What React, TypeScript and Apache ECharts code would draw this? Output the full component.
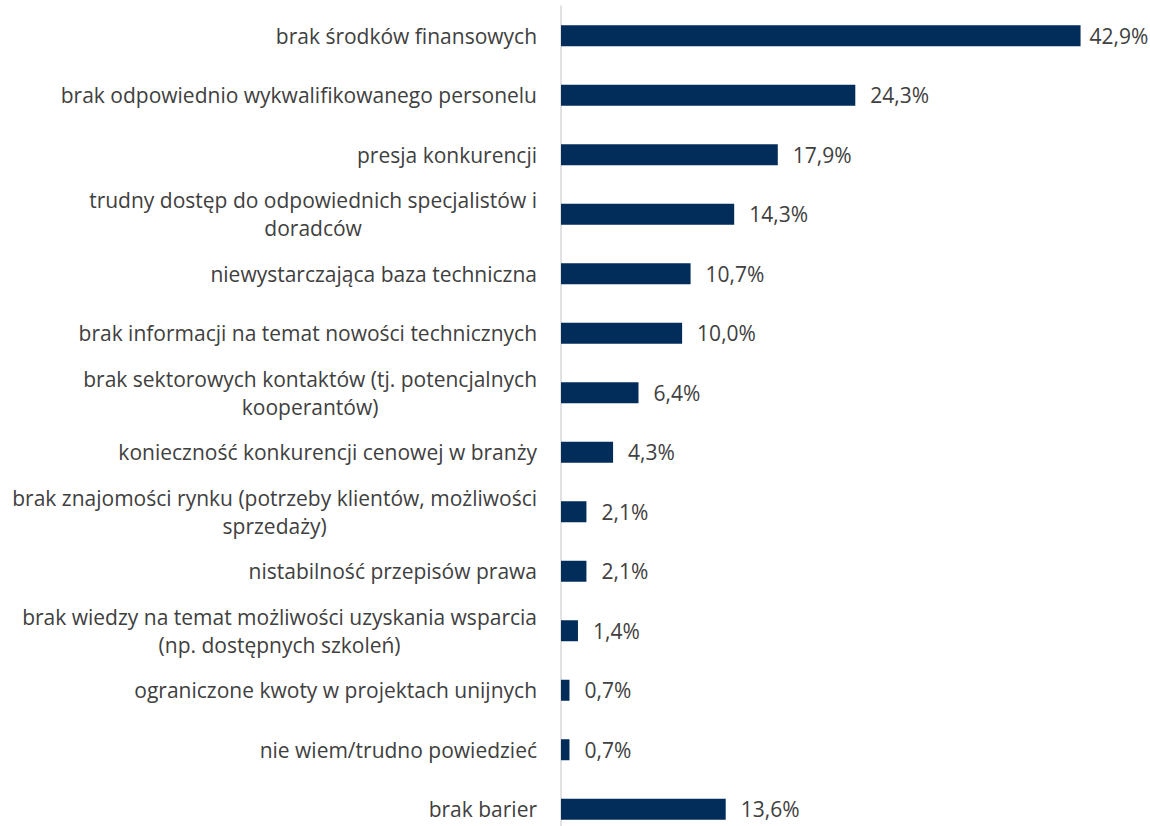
import React, { useEffect, useRef } from "react";
import * as echarts from "echarts";

const categories: string[] = [
  "brak środków finansowych",
  "brak odpowiednio wykwalifikowanego personelu",
  "presja konkurencji",
  "trudny dostęp do odpowiednich specjalistów i\ndoradców",
  "niewystarczająca baza techniczna",
  "brak informacji na temat nowości technicznych",
  "brak sektorowych kontaktów (tj. potencjalnych\nkooperantów)",
  "konieczność konkurencji cenowej w branży",
  "brak znajomości rynku (potrzeby klientów, możliwości\nsprzedaży)",
  "nistabilność przepisów prawa",
  "brak wiedzy na temat możliwości uzyskania wsparcia\n(np. dostępnych szkoleń)",
  "ograniczone kwoty w projektach unijnych",
  "nie wiem/trudno powiedzieć",
  "brak barier",
];

const values: number[] = [42.9, 24.3, 17.9, 14.3, 10.7, 10.0, 6.4, 4.3, 2.1, 2.1, 1.4, 0.7, 0.7, 13.6];

const fmt = (v: number) => v.toFixed(1).replace(".", ",") + "%";

export default function App() {
  const ref = useRef<HTMLDivElement>(null);
  useEffect(() => {
    if (!ref.current) return;
    const chart = echarts.init(ref.current, null, { renderer: "svg" });
    const seriesData = values.map((v, i) =>
      i === 0 ? { value: v, label: { distance: 9 } } : { value: v }
    );
    chart.setOption({
      animation: false,
      textStyle: { fontFamily: "Open Sans" },
      grid: { left: 561, top: 6, height: 833, width: 545, containLabel: false },
      xAxis: {
        type: "value",
        min: 0,
        max: 45,
        show: false,
      },
      yAxis: {
        type: "category",
        data: categories,
        inverse: true,
        axisLine: { show: true, lineStyle: { color: "#d9d9d9", width: 1.5 } },
        axisTick: { show: false },
        axisLabel: {
          margin: 24,
          color: "#404040",
          fontSize: 21,
          fontFamily: "Open Sans",
          lineHeight: 28,
          formatter: (v: string) =>
            v
              .split("\n")
              .map((l) => "{c|" + l + "}")
              .join("\n"),
          rich: {
            c: {
              align: "center",
              color: "#404040",
              fontSize: 21,
              fontFamily: "Open Sans",
              lineHeight: 28,
            },
          },
        },
      },
      series: [
        {
          type: "bar",
          data: seriesData,
          barWidth: 21,
          itemStyle: { color: "#022d5b" },
          label: {
            show: true,
            position: "right",
            distance: 15,
            color: "#404040",
            fontSize: 21,
            fontFamily: "Open Sans",
            formatter: (p: any) => fmt(p.value),
          },
        },
      ],
    });
    return () => chart.dispose();
  }, []);
  return (
    <div
      ref={ref}
      style={{ position: "fixed", left: 0, top: 0, width: 1150, height: 860, background: "#fff" }}
    />
  );
}
